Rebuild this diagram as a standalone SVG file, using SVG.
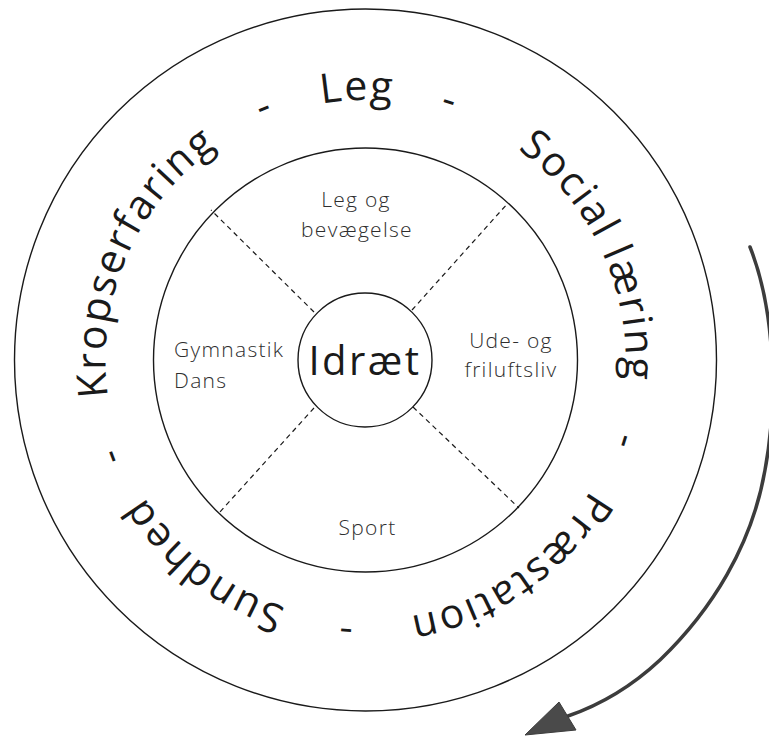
<svg xmlns="http://www.w3.org/2000/svg" width="769" height="740" viewBox="0 0 769 740">
  <style>
    .ring { fill: none; stroke: #1a1a1a; stroke-width: 1.4; }
    .div { fill: none; stroke: #1a1a1a; stroke-width: 1.2; stroke-dasharray: 5 4; }
    .outer { font-family: "Open Sans", "Liberation Sans", sans-serif; font-size: 41px; fill: #1a1a1a; letter-spacing: 2px; }
    .lbl { font-family: "Open Sans", "Liberation Sans", sans-serif; font-size: 21px; font-weight: 300; fill: #2e2e2e; letter-spacing: 1.3px; }
    .core { font-family: "Open Sans", "Liberation Sans", sans-serif; font-size: 40px; fill: #1a1a1a; letter-spacing: 2.5px; }
  </style>
  <defs>
    <path id="ringPath" d="M 365.5 100 A 260 260 0 0 1 365.5 620 A 260 260 0 0 1 365.5 100 A 260 260 0 0 1 365.5 620 A 260 260 0 0 1 365.5 100"/>
  </defs>
  <rect width="769" height="740" fill="#ffffff"/>

  <g id="outer-ring">
    <circle class="ring" cx="365.5" cy="360" r="351"/>
    <text class="outer" text-anchor="middle"><textPath href="#ringPath" startOffset="1332">Kropserfaring</textPath></text>
    <text class="outer" text-anchor="middle"><textPath href="#ringPath" startOffset="1534">-</textPath></text>
    <text class="outer" text-anchor="middle"><textPath href="#ringPath" startOffset="1625">Leg</textPath></text>
    <text class="outer" text-anchor="middle"><textPath href="#ringPath" startOffset="1715">-</textPath></text>
    <text class="outer" text-anchor="middle"><textPath href="#ringPath" startOffset="1929">Social læring</textPath></text>
    <text class="outer" text-anchor="middle"><textPath href="#ringPath" startOffset="2121">-</textPath></text>
    <text class="outer" text-anchor="middle"><textPath href="#ringPath" startOffset="2292">Præstation</textPath></text>
    <text class="outer" text-anchor="middle"><textPath href="#ringPath" startOffset="2469">-</textPath></text>
    <text class="outer" text-anchor="middle"><textPath href="#ringPath" startOffset="2623">Sundhed</textPath></text>
    <text class="outer" text-anchor="middle"><textPath href="#ringPath" startOffset="2764">-</textPath></text>
  </g>

  <g id="middle-ring">
    <circle class="ring" cx="365.5" cy="360" r="212"/>
  </g>

  <g id="connectors">
    <line class="div" x1="314" y1="312" x2="211" y2="210"/>
    <line class="div" x1="412" y1="310" x2="508" y2="203"/>
    <line class="div" x1="314" y1="408" x2="219" y2="513"/>
    <line class="div" x1="413" y1="407" x2="519" y2="508"/>
  </g>

  <g id="sector-leg">
    <text class="lbl" x="356" y="207" text-anchor="middle">Leg og</text>
    <text class="lbl" x="357" y="237" text-anchor="middle">bevægelse</text>
  </g>
  <g id="sector-gymnastik">
    <text class="lbl" x="174" y="357">Gymnastik</text>
    <text class="lbl" x="174" y="388">Dans</text>
  </g>
  <g id="sector-ude">
    <text class="lbl" x="511" y="348" text-anchor="middle">Ude- og</text>
    <text class="lbl" x="511" y="377" text-anchor="middle">friluftsliv</text>
  </g>
  <g id="sector-sport">
    <text class="lbl" x="367.5" y="535" text-anchor="middle">Sport</text>
  </g>

  <g id="core">
    <circle class="ring" cx="365" cy="360" r="67"/>
    <text class="core" x="365" y="375" text-anchor="middle">Idræt</text>
  </g>

  <g id="cycle-arrow">
    <path d="M 750 247 C 775 310, 778 400, 765 470 C 752 545, 712 610, 660 660 C 630 688, 600 705, 568 716" fill="none" stroke="#3c3c3c" stroke-width="3.5" stroke-linecap="round"/>
    <polygon points="525,735 559,702 576,730" fill="#4a4a4a" stroke="#3c3c3c" stroke-width="1" stroke-linejoin="round"/>
  </g>
</svg>
